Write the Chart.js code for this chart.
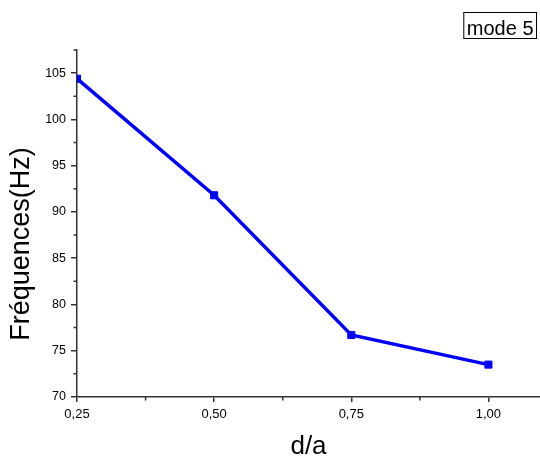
<!DOCTYPE html>
<html>
<head>
<meta charset="utf-8">
<script src="https://cdn.jsdelivr.net/npm/chart.js@4/dist/chart.umd.min.js"></script>
<style>
  html, body { margin: 0; padding: 0; background: #ffffff; }
  #wrap { width: 540px; height: 457px; }
</style>
</head>
<body>
<div id="wrap"><canvas id="c" width="540" height="457"></canvas></div>
<script>
// d/a ratio and the matching frequency of mode 5
const ratios = [0.25, 0.50, 0.75, 1.00];
const frequencies = [104.4, 91.8, 76.7, 73.5];

// Axis tick values
const xMajorTicks = [0.25, 0.50, 0.75, 1.00];
const xMinorTicks = [0.375, 0.625, 0.875];
const yMajorTicks = [70, 75, 80, 85, 90, 95, 100, 105];
const yMinorTicks = [72.5, 77.5, 82.5, 87.5, 92.5, 97.5, 102.5, 107.5];

const xTitle = 'd/a';
const yTitle = 'Fréquences(Hz)';
const boxLabel = 'mode 5';

const FONT = '"Liberation Sans", Arial, sans-serif';
const AXIS = '#333333';

const fmtComma = v => v.toFixed(2).replace('.', ',');

// Short outward ticks between the labelled ones
const minorTicks = {
  id: 'minorTicks',
  afterDraw(chart) {
    const ctx = chart.ctx;
    const xs = chart.scales.x, ys = chart.scales.y;
    const area = chart.chartArea;
    ctx.save();
    ctx.strokeStyle = AXIS;
    ctx.lineWidth = 1.5;
    ctx.beginPath();
    xMinorTicks.forEach(v => {
      const px = xs.getPixelForValue(v);
      ctx.moveTo(px, area.bottom);
      ctx.lineTo(px, area.bottom + 3.5);
    });
    yMinorTicks.forEach(v => {
      const py = ys.getPixelForValue(v);
      ctx.moveTo(area.left, py);
      ctx.lineTo(area.left - 3.5, py);
    });
    ctx.stroke();
    ctx.restore();
  }
};

// Vertical axis title, centred a little below the middle of the axis
const yAxisTitle = {
  id: 'yAxisTitle',
  afterDraw(chart) {
    const ctx = chart.ctx;
    ctx.save();
    ctx.translate(22, 244);
    ctx.rotate(-Math.PI / 2);
    ctx.font = '27px ' + FONT;
    ctx.fillStyle = '#000000';
    ctx.textAlign = 'center';
    ctx.textBaseline = 'middle';
    ctx.fillText(yTitle, 0, 0);
    ctx.restore();
  }
};

// Framed series label in the upper right corner
const framedLabel = {
  id: 'framedLabel',
  afterDraw(chart) {
    const ctx = chart.ctx;
    ctx.save();
    ctx.font = '20px ' + FONT;
    ctx.fillStyle = '#000000';
    ctx.textBaseline = 'alphabetic';
    ctx.textAlign = 'left';
    const w = ctx.measureText(boxLabel).width;
    const right = 536.5, top = 12.5, h = 26;
    const left = right - w - 6;
    ctx.strokeStyle = '#000000';
    ctx.lineWidth = 1;
    ctx.strokeRect(left, top, right - left, h);
    ctx.fillText(boxLabel, left + 3, 34.5);
    ctx.restore();
  }
};

new Chart(document.getElementById('c'), {
  type: 'scatter',
  data: {
    datasets: [{
      data: ratios.map((r, i) => ({ x: r, y: frequencies[i] })),
      showLine: true,
      borderColor: '#0000ff',
      backgroundColor: '#0000ff',
      borderWidth: 3.5,
      pointStyle: 'rect',
      pointRadius: 5,
      pointBorderWidth: 1,
      pointBorderColor: '#0000ff',
      pointBackgroundColor: '#0000ff',
      tension: 0
    }]
  },
  options: {
    responsive: false,
    animation: false,
    devicePixelRatio: 1,
    layout: { autoPadding: false, padding: { top: 50, right: 0, bottom: 0, left: 0 } },
    plugins: {
      legend: { display: false },
      tooltip: { enabled: false }
    },
    scales: {
      x: {
        type: 'linear',
        min: 0.25,
        max: 1.094,
        afterBuildTicks: s => { s.ticks = xMajorTicks.map(v => ({ value: v })); },
        afterFit: s => { s.height = 60; },
        grid: { drawOnChartArea: false, drawTicks: true, tickLength: 5, tickColor: AXIS, lineWidth: 1.5 },
        border: { display: true, color: AXIS, width: 1.5 },
        ticks: {
          padding: 5,
          color: '#000000',
          font: { family: FONT, size: 13 },
          maxRotation: 0,
          callback: v => fmtComma(v)
        },
        title: {
          display: true,
          text: xTitle,
          color: '#000000',
          font: { family: FONT, size: 26, lineHeight: 0.8 },
          padding: { top: 0, bottom: 0 }
        }
      },
      y: {
        type: 'linear',
        min: 70,
        max: 107.5,
        afterBuildTicks: s => { s.ticks = yMajorTicks.map(v => ({ value: v })); },
        afterFit: s => { s.width = 77; },
        grid: { drawOnChartArea: false, drawTicks: true, tickLength: 6, tickColor: AXIS, lineWidth: 1.5 },
        border: { display: true, color: AXIS, width: 1.5 },
        ticks: {
          padding: 5,
          color: '#000000',
          font: { family: FONT, size: 12.5 },
          callback: v => String(v)
        },
        title: { display: false }
      }
    }
  },
  plugins: [minorTicks, yAxisTitle, framedLabel]
});
</script>
</body>
</html>
